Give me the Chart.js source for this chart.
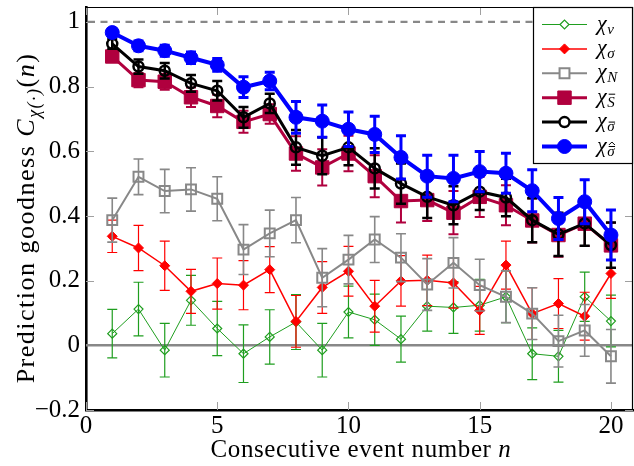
<!DOCTYPE html>
<html>
<head>
<meta charset="utf-8">
<title>Prediction goodness</title>
<script src="https://cdn.jsdelivr.net/npm/chart.js@4.4.1/dist/chart.umd.min.js"></script>
<style>
  html, body { margin: 0; padding: 0; background: #fff; }
  canvas { display: block; }
</style>
</head>
<body>
<canvas id="goodnessChart" width="634" height="466"></canvas>
<script>
// Consecutive event numbers on the x axis
const eventNumbers = [1, 2, 3, 4, 5, 6, 7, 8, 9, 10, 11, 12, 13, 14, 15, 16, 17, 18, 19, 20];

// Series values and their error bar half-widths
const chiV = [0.036, 0.112, -0.015, 0.139, 0.052, -0.026, 0.026, 0.072, -0.015, 0.103, 0.079, 0.019, 0.121, 0.117, 0.124, 0.150, -0.026, -0.034, 0.150, 0.075];
const chiVErr = [0.075, 0.083, 0.083, 0.077, 0.084, 0.089, 0.084, 0.085, 0.083, 0.080, 0.079, 0.071, 0.077, 0.080, 0.080, 0.080, 0.080, 0.080, 0.076, 0.080];

const chiSigma = [0.337, 0.301, 0.246, 0.167, 0.191, 0.186, 0.234, 0.074, 0.179, 0.229, 0.121, 0.199, 0.201, 0.193, 0.108, 0.248, 0.098, 0.129, 0.090, 0.222];
const chiSigmaErr = [0.050, 0.070, 0.076, 0.068, 0.079, 0.076, 0.071, 0.080, 0.080, 0.077, 0.080, 0.078, 0.078, 0.078, 0.074, 0.074, 0.080, 0.077, 0.074, 0.077];

const chiN = [0.387, 0.521, 0.477, 0.482, 0.453, 0.296, 0.346, 0.387, 0.209, 0.265, 0.327, 0.271, 0.188, 0.255, 0.186, 0.150, 0.098, 0.013, 0.046, -0.034];
const chiNErr = [0.068, 0.055, 0.067, 0.067, 0.068, 0.077, 0.072, 0.070, 0.090, 0.075, 0.071, 0.074, 0.080, 0.078, 0.080, 0.080, 0.080, 0.080, 0.080, 0.083];

const chiSBar = [0.893, 0.820, 0.815, 0.767, 0.740, 0.691, 0.715, 0.593, 0.550, 0.593, 0.523, 0.446, 0.449, 0.410, 0.459, 0.433, 0.386, 0.341, 0.376, 0.309];
const chiSBarErr = [0.015, 0.022, 0.025, 0.030, 0.035, 0.034, 0.030, 0.053, 0.056, 0.055, 0.065, 0.066, 0.065, 0.067, 0.062, 0.062, 0.068, 0.067, 0.069, 0.070];

const chiSigmaBar = [0.932, 0.862, 0.849, 0.810, 0.787, 0.705, 0.748, 0.612, 0.586, 0.612, 0.547, 0.500, 0.459, 0.433, 0.475, 0.457, 0.387, 0.343, 0.377, 0.310];
const chiSigmaBarErr = [0.015, 0.022, 0.024, 0.026, 0.030, 0.032, 0.030, 0.054, 0.057, 0.055, 0.062, 0.062, 0.065, 0.059, 0.057, 0.058, 0.068, 0.067, 0.069, 0.070];

const chiSigmaHat = [0.967, 0.926, 0.911, 0.889, 0.867, 0.798, 0.817, 0.705, 0.693, 0.668, 0.652, 0.581, 0.523, 0.516, 0.537, 0.532, 0.478, 0.392, 0.444, 0.341];
const chiSigmaHatErr = [0.012, 0.015, 0.017, 0.018, 0.020, 0.032, 0.027, 0.049, 0.050, 0.053, 0.056, 0.067, 0.065, 0.072, 0.062, 0.062, 0.065, 0.065, 0.068, 0.077];

// Tick values for both axes
const xTickValues = [0, 5, 10, 15, 20];
const yTickValues = [-0.2, 0, 0.2, 0.4, 0.6, 0.8, 1];

const SERIF = "'Liberation Serif', 'DejaVu Serif', serif";

function toPoints(values) {
  return eventNumbers.map((n, i) => ({ x: n, y: values[i] }));
}

// Draws vertical error bars with caps just before each dataset
const errorBarPlugin = {
  id: "errorBars",
  beforeDatasetDraw(chart, args) {
    const ds = chart.data.datasets[args.index];
    if (!ds.errors) return;
    const ctx = chart.ctx;
    const yScale = chart.scales.y;
    ctx.save();
    ctx.strokeStyle = ds.borderColor;
    ctx.lineWidth = ds.errorWidth;
    args.meta.data.forEach((pt, i) => {
      const v = ds.data[i].y;
      const top = yScale.getPixelForValue(v + ds.errors[i]);
      const bottom = yScale.getPixelForValue(v - ds.errors[i]);
      const half = ds.capHalf;
      ctx.beginPath();
      ctx.moveTo(pt.x, top);
      ctx.lineTo(pt.x, bottom);
      ctx.moveTo(pt.x - half, top);
      ctx.lineTo(pt.x + half, top);
      ctx.moveTo(pt.x - half, bottom);
      ctx.lineTo(pt.x + half, bottom);
      ctx.stroke();
    });
    ctx.restore();
  }
};

// Reference lines at 0 and 1, inner tick marks, x tick labels and frame
const framePlugin = {
  id: "frame",
  beforeDatasetsDraw(chart) {
    const { ctx, chartArea: a, scales } = chart;
    ctx.save();

    // inner ticks
    ctx.strokeStyle = "#a0a0a0";
    ctx.lineWidth = 1;
    ctx.beginPath();
    xTickValues.forEach(v => {
      const x = Math.round(scales.x.getPixelForValue(v)) + 0.5;
      ctx.moveTo(x, a.bottom);
      ctx.lineTo(x, a.bottom - 8);
      ctx.moveTo(x, a.top);
      ctx.lineTo(x, a.top + 8);
    });
    yTickValues.forEach(v => {
      const y = Math.round(scales.y.getPixelForValue(v)) + 0.5;
      ctx.moveTo(a.left, y);
      ctx.lineTo(a.left + 8, y);
      ctx.moveTo(a.right, y);
      ctx.lineTo(a.right - 8, y);
    });
    ctx.stroke();

    // x tick labels
    ctx.fillStyle = "#000";
    ctx.font = "25px " + SERIF;
    ctx.textAlign = "center";
    ctx.textBaseline = "alphabetic";
    xTickValues.forEach(v => {
      ctx.fillText(String(v), scales.x.getPixelForValue(v), a.bottom + 23);
    });

    // dashed line at 1
    const y1 = scales.y.getPixelForValue(1);
    ctx.strokeStyle = "#888888";
    ctx.lineWidth = 2.2;
    ctx.setLineDash([7, 5.5]);
    ctx.beginPath();
    ctx.moveTo(a.left + 2, y1);
    ctx.lineTo(a.right, y1);
    ctx.stroke();
    ctx.setLineDash([]);

    // solid line at 0
    const y0 = scales.y.getPixelForValue(0);
    ctx.lineWidth = 2.6;
    ctx.beginPath();
    ctx.moveTo(a.left, y0);
    ctx.lineTo(a.right, y0);
    ctx.stroke();

    // thin top and right frame
    ctx.strokeStyle = "#000";
    ctx.lineWidth = 1.2;
    ctx.beginPath();
    ctx.moveTo(a.left, a.top + 0.5);
    ctx.lineTo(a.right - 0.5, a.top + 0.5);
    ctx.lineTo(a.right - 0.5, a.bottom);
    ctx.stroke();
    ctx.restore();
  }
};

// Draws chi with an italic subscript and optional bar / hat accents
function drawChi(ctx, x, baseline, sub, accent) {
  ctx.font = "italic 22px " + SERIF;
  ctx.textAlign = "left";
  ctx.textBaseline = "alphabetic";
  ctx.fillText("\u03C7", x, baseline);
  const sx = x + ctx.measureText("\u03C7").width + 0.5;
  const sy = baseline + 4;
  ctx.font = "italic 15px " + SERIF;
  ctx.fillText(sub, sx, sy);
  const w = ctx.measureText(sub).width;
  if (accent) {
    ctx.lineWidth = 1;
    ctx.beginPath();
    const barY = sy - (sub === "S" ? 12.5 : 9);
    ctx.moveTo(sx + 1.5, barY);
    ctx.lineTo(sx + w + 0.5, barY);
    if (accent === "barhat") {
      const cx = sx + w / 2 + 1;
      ctx.moveTo(cx - 3, barY - 1.5);
      ctx.lineTo(cx, barY - 4.5);
      ctx.lineTo(cx + 3, barY - 1.5);
    }
    ctx.stroke();
  }
}

const legendEntries = [
  { sub: "v", accent: null, color: "#1f9e1f", line: 1, style: "rectRot", radius: 4.5, fill: false, border: 1.2 },
  { sub: "\u03C3", accent: null, color: "#ff0000", line: 1.5, style: "rectRot", radius: 5, fill: true, border: 1 },
  { sub: "N", accent: null, color: "#888888", line: 2, style: "rect", radius: 7, fill: false, border: 2 },
  { sub: "S", accent: "bar", color: "#b0003e", line: 3, style: "rect", radius: 9.5, fill: true, border: 1 },
  { sub: "\u03C3", accent: "bar", color: "#000000", line: 3, style: "circle", radius: 5, fill: false, border: 2.5 },
  { sub: "\u03C3", accent: "barhat", color: "#0000ff", line: 4, style: "circle", radius: 7, fill: true, border: 1 }
];

// Writes a row of text pieces centred on cx, each with its own font and offset
function drawParts(ctx, parts, cx, baseline, spacing) {
  ctx.letterSpacing = spacing;
  let total = 0;
  parts.forEach(p => { ctx.font = p.f; p.w = ctx.measureText(p.t).width; total += p.w; });
  let x = cx - total / 2;
  parts.forEach(p => { ctx.font = p.f; ctx.fillText(p.t, x, baseline + (p.dy || 0)); x += p.w; });
  ctx.letterSpacing = "0px";
}

// Legend box in the upper right corner and axis titles
const annotationPlugin = {
  id: "annotations",
  afterDraw(chart) {
    const { ctx, chartArea: a } = chart;
    ctx.save();

    // legend
    const boxLeft = 533.5, boxTop = a.top + 0.5, boxBottom = 163.5;
    ctx.fillStyle = "#fff";
    ctx.fillRect(boxLeft, boxTop, a.right - boxLeft, boxBottom - boxTop);
    ctx.strokeStyle = "#000";
    ctx.lineWidth = 1.2;
    ctx.strokeRect(boxLeft, boxTop, a.right - 0.5 - boxLeft, boxBottom - boxTop);

    legendEntries.forEach((e, i) => {
      const cy = 24.5 + i * 24.4;
      ctx.strokeStyle = e.color;
      ctx.lineWidth = e.line;
      ctx.beginPath();
      ctx.moveTo(542, cy);
      ctx.lineTo(587, cy);
      ctx.stroke();
      ctx.fillStyle = e.fill ? e.color : "#fff";
      ctx.lineWidth = e.border;
      Chart.helpers.drawPoint(ctx, { pointStyle: e.style, radius: e.radius, borderWidth: e.border }, 564.5, cy);
      ctx.fillStyle = "#000";
      ctx.strokeStyle = "#000";
      drawChi(ctx, 597, cy + 5, e.sub, e.accent);
    });

    // x axis title
    ctx.fillStyle = "#000";
    ctx.textBaseline = "alphabetic";
    ctx.textAlign = "left";
    drawParts(ctx, [
      { t: "Consecutive event number ", f: "25px " + SERIF },
      { t: "n", f: "italic 25px " + SERIF }
    ], 361, 457, "0.6px");

    // y axis title, rotated
    ctx.translate(34, 218);
    ctx.rotate(-Math.PI / 2);
    drawParts(ctx, [
      { t: "Prediction goodness ", f: "26px " + SERIF },
      { t: "C", f: "italic 26px " + SERIF },
      { t: "\u03C7(\u00B7)", f: "italic 18px " + SERIF, dy: 6 },
      { t: "(", f: "26px " + SERIF },
      { t: "n", f: "italic 26px " + SERIF },
      { t: ")", f: "26px " + SERIF }
    ], 0, 0, "1.5px");
    ctx.restore();
  }
};

function makeDataset(label, values, errors, opts) {
  return Object.assign({
    label: label,
    data: toPoints(values),
    errors: errors,
    fill: false,
    tension: 0
  }, opts);
}

const datasets = [
  makeDataset("chi_v", chiV, chiVErr, {
    borderColor: "#1f9e1f", borderWidth: 1, pointStyle: "rectRot", pointRadius: 4.5,
    pointBorderWidth: 1.2, pointBackgroundColor: "rgba(0,0,0,0)", errorWidth: 1.2, capHalf: 5, order: 6
  }),
  makeDataset("chi_sigma", chiSigma, chiSigmaErr, {
    borderColor: "#ff0000", borderWidth: 1.5, pointStyle: "rectRot", pointRadius: 5,
    pointBorderWidth: 1, pointBackgroundColor: "#ff0000", errorWidth: 1.2, capHalf: 5, order: 5
  }),
  makeDataset("chi_N", chiN, chiNErr, {
    borderColor: "#888888", borderWidth: 2, pointStyle: "rect", pointRadius: 7,
    pointBorderWidth: 2, pointBackgroundColor: "rgba(0,0,0,0)", errorWidth: 1.6, capHalf: 5, order: 4
  }),
  makeDataset("chi_Sbar", chiSBar, chiSBarErr, {
    borderColor: "#b0003e", borderWidth: 3, pointStyle: "rect", pointRadius: 9.5,
    pointBorderWidth: 1, pointBackgroundColor: "#b0003e", errorWidth: 2, capHalf: 5, order: 3
  }),
  makeDataset("chi_sigmabar", chiSigmaBar, chiSigmaBarErr, {
    borderColor: "#000000", borderWidth: 3, pointStyle: "circle", pointRadius: 5,
    pointBorderWidth: 2.5, pointBackgroundColor: "rgba(0,0,0,0)", errorWidth: 2.5, capHalf: 5, order: 2
  }),
  makeDataset("chi_sigmahat", chiSigmaHat, chiSigmaHatErr, {
    borderColor: "#0000ff", borderWidth: 4, pointStyle: "circle", pointRadius: 7,
    pointBorderWidth: 1, pointBackgroundColor: "#0000ff", errorWidth: 3, capHalf: 5, order: 1
  })
];

const ctx = document.getElementById("goodnessChart").getContext("2d");

const goodnessChart = new Chart(ctx, {
  type: "line",
  data: { datasets: datasets },
  plugins: [framePlugin, errorBarPlugin, annotationPlugin],
  options: {
    responsive: false,
    animation: false,
    devicePixelRatio: 1,
    layout: { autoPadding: false, padding: { top: 7, right: 1, left: 0, bottom: 0 } },
    plugins: {
      legend: { display: false },
      tooltip: { enabled: false }
    },
    scales: {
      x: {
        type: "linear",
        min: 0,
        max: 20.84,
        afterFit: scale => {
          scale.height = 56;
          scale.paddingLeft = 0;
          scale.paddingRight = 0;
        },
        afterBuildTicks: scale => { scale.ticks = xTickValues.map(v => ({ value: v })); },
        grid: { display: false, drawTicks: false },
        border: { display: true, color: "#000", width: 2.6 },
        // labels are written by the frame plugin
        ticks: { display: false }
      },
      y: {
        type: "linear",
        min: -0.2,
        max: 1.046,
        afterFit: scale => {
          scale.width = 86;
          scale.paddingTop = 0;
          scale.paddingBottom = 0;
        },
        afterBuildTicks: scale => { scale.ticks = yTickValues.map(v => ({ value: v })); },
        grid: { display: false, drawTicks: false },
        border: { display: true, color: "#000", width: 2.6 },
        ticks: {
          padding: 6,
          autoSkip: false,
          color: "#000",
          font: { family: SERIF, size: 25 },
          callback: v => (v < 0 ? "\u2212" : "") + String(Math.abs(Math.round(v * 10) / 10))
        }
      }
    }
  }
});
</script>
</body>
</html>
